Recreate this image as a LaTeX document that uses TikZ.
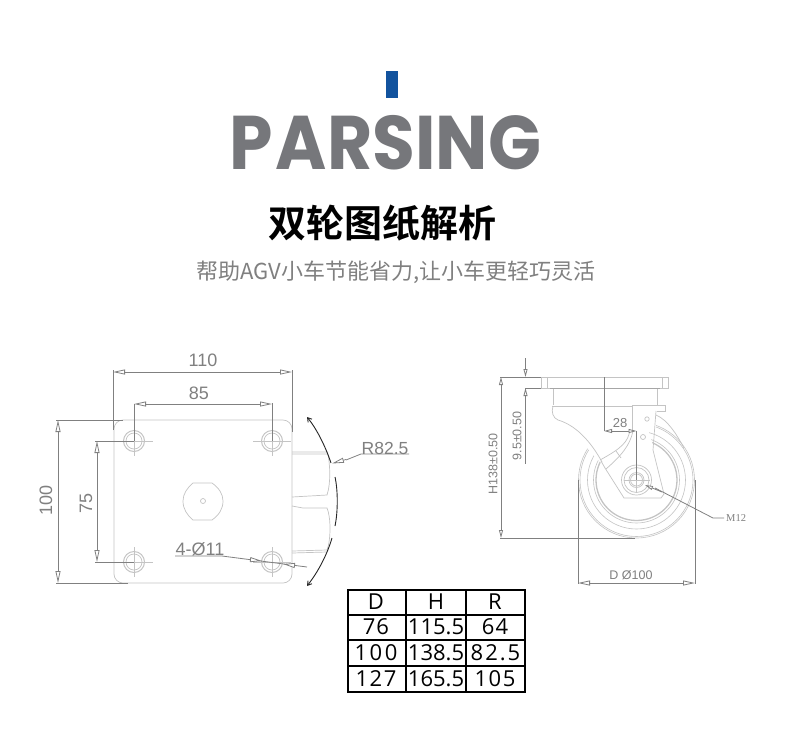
\documentclass[tikz,border=0pt]{standalone}
\usepackage{fontspec}
\setmainfont{Liberation Sans}
\newfontfamily\cjkb{Noto Sans CJK SC Bold}
\newfontfamily\cjkr{Noto Sans CJK SC}
\newfontfamily\tbl{Open Sans}
\newfontfamily\srf{Liberation Serif}
\newfontfamily\pop{Poppins}
\usetikzlibrary{arrows.meta}
\definecolor{dimc}{HTML}{808080}
\definecolor{outl}{HTML}{C4C4C4}
\definecolor{titleg}{HTML}{76777B}
\definecolor{barblue}{HTML}{12539E}
\tikzset{
 x=1pt,y=-1pt,
 tipbig/.tip={Triangle[open,length=12pt,width=5pt,fill=white]},
 tipsmall/.tip={Triangle[open,length=8pt,width=4pt,fill=white]},
 dimline/.style={draw=dimc,line width=0.8pt},
 dimarrow/.style={draw=dimc,line width=0.8pt,tipbig-tipbig},
 smallarrow/.style={draw=dimc,line width=0.8pt,tipsmall-tipsmall},
 outline/.style={draw=outl,line width=0.7pt},
 centerl/.style={draw=outl,line width=0.5pt},
 dimlabel/.style={text=dimc,font=\fontsize{18}{18}\selectfont,inner sep=0pt},
 arcline/.style={draw=black!85,line width=0.9pt},
 tcell/.style={font=\tbl\fontsize{22}{22}\selectfont,text=black,inner sep=0pt},
}
\begin{document}
\begin{tikzpicture}
\useasboundingbox (0,0) rectangle (790,745);
\fill[white] (0,0) rectangle (790,745);
% header
\fill[barblue] (386,71) rectangle (398,98);
\node[inner sep=0pt,text=titleg,xscale=0.915,font=\pop\fontsize{76}{76}\selectfont\bfseries] (title) at (385.5,143) {P\kern3pt ARSING};
\node[inner sep=0pt,font=\cjkb\fontsize{38}{38}\selectfont] (sub) at (382,223) {双轮图纸解析};
\node[inner sep=0pt,text=dimc,font=\cjkr\fontsize{22}{22}\selectfont] (tag) at (396,272) {帮助AGV小车节能省力,让小车更轻巧灵活};
% plate view
\draw[outline,rounded corners=9pt] (114,420) rectangle (292,583);
\foreach \n/\cx/\cy in {a/134/441,b/272/441,c/134/562,d/272/562}{
 \draw[outline,line width=1pt] (\cx,\cy) circle (10.5);
 \draw[outline] (\cx,\cy) circle (8);
 \draw[centerl] (\cx-19,\cy) -- (\cx+19,\cy) (\cx,\cy-15) -- (\cx,\cy+15);
}
\draw[outline] (193,483) -- (212,483) .. controls (219,488) and (223,494) .. (223,501) .. controls (223,509) and (219,515) .. (212,520) -- (193,520) .. controls (187,515) and (183,509) .. (183,501) .. controls (183,494) and (187,488) .. (193,483);
\draw[outline] (203,501) circle (2.5);
% side lobes
\draw[outline] (292,452) -- (328,452) (292,454) -- (328,454) (328,454) .. controls (330,465) and (331,483) .. (327,495) -- (292,497);
\draw[outline] (292,506) -- (303,508) -- (327,508) .. controls (331,517) and (331,540) .. (327,550) -- (292,551) (292,553) -- (327,552);
% dims on plate
\draw[dimline] (113,430) -- (113,370);
\draw[dimline] (292,432) -- (292,370);
\draw[dimarrow] (113,372) -- (292,372);
\node[dimlabel] (d110) at (203,360) {110};
\draw[dimline] (134,441) -- (134,404);
\draw[dimline] (272,441) -- (272,403);
\draw[dimarrow] (134,404) -- (272,404);
\node[dimlabel] (d85) at (199,393) {85};
\draw[dimline] (56,420) -- (123,420);
\draw[dimline] (56,583) -- (128,583);
\draw[dimarrow] (58,420) -- (58,583);
\node[dimlabel,rotate=90] (d100) at (46,500) {100};
\draw[dimline] (95,441) -- (134,441);
\draw[dimline] (95,562) -- (134,562);
\draw[dimarrow] (97,441) -- (97,562);
\node[dimlabel,rotate=90] (d75) at (86,503) {75};
\node[dimlabel] (d411) at (200,549) {4-Ø11};
\coordinate (ld) at (222,556);
\coordinate (le) at (307,567);
\draw[dimline] (175,556) -- (ld) -- (le);
\draw[dimline,-tipbig] (250,559.6) -- (262,561);
\draw[dimline,-tipbig] (295,565.5) -- (283,564);
% R arcs
\draw[arcline,-{Straight Barb[length=4pt,width=5pt]}] (331,463) .. controls (325,445) and (316,428) .. (307,417);
\draw[arcline] (335,477) .. controls (338,490) and (338,512) .. (335,526);
\draw[arcline,-{Straight Barb[length=4pt,width=5pt]}] (332,538) .. controls (327,555) and (318,572) .. (307,586);
\draw[dimline] (409,454) -- (361,454) -- (346,460);
\draw[dimline,-tipbig] (346,459.5) -- (332,463.5);
\node[dimlabel,font=\fontsize{17.5}{18}\selectfont,anchor=south] (r825) at (385,455) {R82.5};
% side view: plate
\draw[outline] (541,377) rectangle (668,388);
\draw[outline] (547,377) -- (547,388) (662,377)--(662,388);
\draw[outline,draw=dimc!70] (550,388) -- (660,388);
\draw[outline] (553,389) -- (553,405) (657,389) -- (657,405);
% wheel
\foreach \r/\w in {58/0.6,56.5/0.6,49/0.6,43/0.6,40.5/1.3}{\draw[outline,line width=\w pt] (636.5,480) circle (\r);}
\fill[white] (554,392) rectangle (656,431);
\fill[white] (552,410) -- (600,462) -- (650,498) -- (670,498) -- (640,405) -- cycle;
% fork
\draw[outline] (553,406) .. controls (551,412) and (553,418) .. (558,420) .. controls (575,425) and (590,440) .. (602,462);
\draw[outline] (552,406) -- (632,406);
\draw[outline] (632,405) -- (632,431) (632,405) -- (665,405) -- (665,411) -- (657,411);
\draw[outline] (630,430) .. controls (628,442) and (622,448) .. (600,460);
\draw[outline] (633,431) .. controls (630,445) and (622,455) .. (606,469);
\draw[outline] (601,461) -- (605,468) (616,451) -- (621,458);
\draw[outline] (605,468) -- (624,498) -- (661,498) -- (664,494) -- (653,450) -- (656,411);
\draw[outline] (647,419) circle (2.2);
\draw[outline] (643,437) circle (2.5);
\draw[outline] (656,415) .. controls (668,420) and (677,435) .. (684,448);
\foreach \r in {15,12.5,7.5,6}{\draw[outline] (636.5,480) circle (\r);}
\draw[centerl] (624,480) -- (650,480) (636.5,468) -- (636.5,492);
% dims right
\draw[dimline] (500,377) -- (541,377);
\draw[dimline] (525,388) -- (541,388);
\draw[dimline,tipsmall-] (525.5,377) -- (525.5,358);
\draw[dimline,tipsmall-] (525.5,388) -- (525.5,464);
\node[dimlabel,font=\fontsize{12.5}{13}\selectfont,rotate=90] (d95) at (517,436) {9.5±0.50};
\draw[smallarrow] (501,377) -- (501,538);
\draw[dimline] (500,538) -- (635,538);
\node[dimlabel,font=\fontsize{12.5}{13}\selectfont,rotate=90] (d138) at (493,464) {H138±0.50};
\draw[dimline] (604,377) -- (604,431);
\draw[dimline] (636.5,431) -- (636.5,480);
\draw[smallarrow] (604,431) -- (636.5,431);
\node[dimlabel,font=\fontsize{13}{13}\selectfont] (d28) at (620,423) {28};
\draw[dimline] (578,480) -- (578,584);
\draw[dimline] (695,480) -- (695,584);
\draw[dimarrow] (578,583) -- (695,583);
\node[dimlabel,font=\fontsize{12.5}{13}\selectfont] (dD) at (631,575) {D Ø100};
\draw[dimline] (724,518) -- (713,518) -- (655,488);
\draw[dimline,-tipsmall] (662,492) -- (645,485);
\node[dimlabel,font=\srf\fontsize{10.5}{11}\selectfont,anchor=west] (m12) at (726,518) {M12};
% table
\draw[black,line width=2pt] (347.5,589.5) rectangle (524.5,691.5);
\draw[black,line width=2pt] (347.5,614.5) -- (524.5,614.5) (347.5,640) -- (524.5,640) (347.5,665.5) -- (524.5,665.5) (406,589.5) -- (406,691.5) (466,589.5) -- (466,691.5);
\foreach \n/\x/\y/\t in {a/376/602/D,b/436/602/H,c/495/602/R,d/376/627/7\kern1pt 6,e/436/627/115.5,f/495/627/6\kern1pt 4,g/376/653/1\kern2.5pt 0\kern2.5pt 0,h/436/653/138.5,i/495.5/653/8\kern2pt 2\kern2pt .\kern2pt 5,j/376/679/1\kern1.5pt 2\kern1.5pt 7,k/436/679/165.5,l/495/679/1\kern1.5pt 0\kern1.5pt 5}{
 \node[tcell] (t\n) at (\x,\y) {\t};
}
\end{tikzpicture}
\end{document}
